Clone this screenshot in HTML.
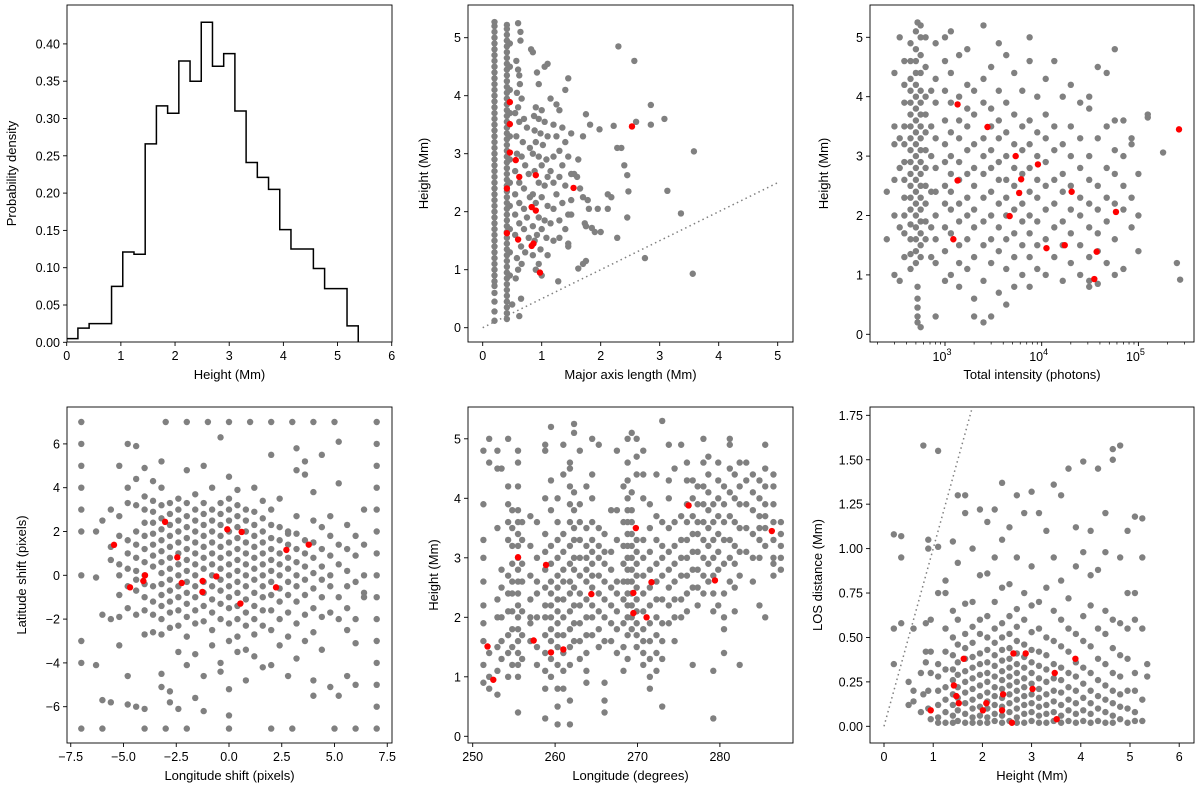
<!DOCTYPE html>
<html><head><meta charset="utf-8"><title>Height statistics panels</title>
<style>
html,body{margin:0;padding:0;background:#fff;}
svg{display:block;font-family:"Liberation Sans","DejaVu Sans",sans-serif;}
text{fill:#000;}
</style></head>
<body>
<svg id="fig" width="1200" height="795" viewBox="0 0 1200 795" xmlns="http://www.w3.org/2000/svg"></svg>
<script>
// ---------- DATA ----------
// Panel 1 histogram
const histEdgeStart = 0, histBinWidth = 0.207;
const histDensity = [0.005,0.019,0.025,0.025,0.075,0.121,0.118,0.266,0.317,0.307,0.377,0.350,0.429,0.370,0.387,0.310,0.241,0.221,0.205,0.151,0.125,0.125,0.099,0.072,0.072,0.022];
const p1XTicks = [0,1,2,3,4,5,6];
const p1YTicks = ["0.00","0.05","0.10","0.15","0.20","0.25","0.30","0.35","0.40"];

// Panel 2: major axis length vs height
const p2Cols = [
 [0.2,[0.12,0.28,0.45,0.6,0.72,0.8,0.9,1.0,1.1,1.2,1.3,1.4,1.5,1.6,1.7,1.8,1.9,2.0,2.1,2.2,2.3,2.4,2.5,2.6,2.7,2.8,2.9,3.0,3.1,3.2,3.3,3.4,3.5,3.6,3.7,3.8,3.9,4.0,4.1,4.2,4.3,4.4,4.5,4.6,4.7,4.8,4.9,5.0,5.1,5.2,5.27]],
 [0.41,[0.15,0.25,0.35,0.45,0.55,0.65,0.75,0.85,0.95,1.05,1.15,1.25,1.35,1.45,1.55,1.65,1.75,1.85,1.95,2.05,2.15,2.25,2.35,2.45,2.55,2.65,2.75,2.85,2.95,3.05,3.15,3.25,3.35,3.45,3.55,3.65,3.75,3.85,3.95,4.05,4.15,4.25,4.35,4.45,4.55,4.65,4.75,4.85,4.95,5.05,5.15,5.22]],
 [0.46,[0.9,1.3,1.7,2.1,2.5,2.9,3.3,3.7,4.1,4.5,4.9]]
];
const p2Pts = [[0.6,5.25],[0.64,5.1],[0.64,4.95],[0.57,4.6],[0.6,4.45],[0.62,4.35],[0.63,4.2],[0.58,4.05],[0.66,3.95],[0.6,3.8],[0.55,3.7],[0.7,3.6],[0.62,3.55],[0.75,3.45],[0.57,3.3],[0.68,3.2],[0.8,3.1],[0.58,3.0],[0.66,2.95],[0.72,2.8],[0.55,2.7],[0.78,2.65],[0.62,2.5],[0.7,2.4],[0.55,2.3],[0.8,2.25],[0.62,2.15],[0.7,2.05],[0.55,1.95],[0.75,1.9],[0.62,1.8],[0.7,1.7],[0.55,1.6],[0.78,1.55],[0.65,1.4],[0.72,1.3],[0.58,1.2],[0.66,1.1],[0.6,1.0],[0.56,0.85],[0.65,0.5],[0.62,0.2],[0.5,0.4],
 [0.82,4.8],[0.85,4.75],[0.92,4.4],[0.95,4.2],[1.05,4.5],[1.1,4.55],[0.9,3.8],[1.0,3.75],[0.87,3.65],[0.95,3.6],[1.05,3.55],[0.88,3.4],[0.98,3.35],[1.1,3.3],[0.9,3.2],[1.02,3.15],[0.85,3.0],[0.95,2.95],[1.08,2.9],[1.0,2.8],[0.88,2.7],[1.1,2.6],[0.95,2.5],[1.05,2.45],[0.85,2.3],[1.0,2.25],[0.9,2.15],[1.1,2.1],[0.95,1.9],[1.05,1.85],[0.85,1.75],[1.0,1.7],[0.92,1.6],[1.08,1.55],[0.88,1.5],[0.98,1.35],[0.85,1.25],[0.95,1.1],[1.0,0.9],[0.9,1.0],
 [1.15,3.95],[1.25,3.85],[1.3,3.75],[1.4,4.1],[1.45,4.3],[1.2,3.5],[1.35,3.45],[1.25,3.3],[1.4,3.2],[1.5,3.35],[1.3,3.05],[1.2,2.95],[1.45,2.95],[1.35,2.8],[1.15,2.7],[1.3,2.6],[1.5,2.65],[1.2,2.5],[1.4,2.45],[1.25,2.3],[1.5,2.2],[1.35,2.15],[1.2,2.05],[1.45,1.95],[1.3,1.85],[1.15,1.8],[1.4,1.7],[1.3,1.55],[1.2,1.5],[1.45,1.45],[1.1,1.25],[1.28,0.8],[1.45,1.4],[1.5,1.95],
 [1.6,2.6],[1.7,3.3],[1.75,3.68],[1.82,3.5],[1.98,3.42],[1.62,2.9],[1.55,2.65],[1.65,2.4],[1.7,2.25],[1.78,2.2],[1.8,2.05],[1.95,2.05],[1.73,1.8],[1.75,1.75],[1.85,1.72],[1.9,1.65],[2.0,1.65],[1.62,1.02],[1.7,1.1],[1.75,1.15],[2.12,2.3],[2.18,2.25],[2.12,2.05],[2.22,3.48],[2.3,4.85],[2.28,3.1],[2.35,3.1],[2.4,2.8],[2.45,2.63],[2.47,2.35],[2.45,1.9],[2.28,1.55],
 [2.6,3.55],[2.57,4.6],[2.85,3.84],[2.85,3.5],[3.08,3.6],[3.13,2.36],[2.75,1.2],[3.36,1.97],[3.58,3.04],[3.56,0.93]];
const p2Red = [[0.46,3.89],[0.46,3.51],[0.46,3.02],[0.56,2.89],[0.62,2.6],[0.9,2.63],[0.41,2.4],[1.54,2.41],[2.53,3.47],[0.83,2.08],[0.9,2.02],[0.41,1.63],[0.6,1.52],[0.86,1.45],[0.83,1.41],[0.97,0.95]];
const p2Line = [[0,0],[5,2.5]];
const p2Ticks = [0,1,2,3,4,5];

// Panel 3: total intensity vs height
const p3Cols = [
 [380,[1.3,1.7,2.0,2.3,2.6,2.9,3.2,3.5,3.9,4.2,4.6]],
 [440,[1.1,1.35,1.6,1.85,2.1,2.3,2.5,2.7,2.9,3.1,3.3,3.5,3.7,3.9,4.1,4.3,4.6,4.9]],
 [500,[1.2,1.4,1.6,1.8,2.0,2.2,2.4,2.6,2.8,3.0,3.2,3.4,3.6,3.8,4.0,4.2,4.4,4.6,4.8,5.1]],
 [560,[0.12,1.3,1.5,1.7,1.9,2.1,2.3,2.5,2.7,2.9,3.1,3.3,3.5,3.7,3.9,4.1,4.4,4.7,5.0,5.2]],
 [520,[0.2,0.3,0.45,0.6,0.8,5.25]],
 [630,[1.6,1.9,2.2,2.5,2.8,3.1,3.4,3.7,4.0,4.5,5.0]],
 [720,[1.3,1.8,2.4,3.0,3.5,4.1]],
 [250,[2.4,1.6]],[300,[2.0,2.6,3.2,3.5,1.0,4.4]],[340,[1.8,2.8,3.3,0.9,5.0]],
 [800,[0.3,1.2,1.6,2.0,2.4,2.8,3.3,3.9,4.3,4.9]],
 [1000,[0.9,1.4,1.8,2.2,2.5,2.9,3.2,3.6,4.1,4.6,5.0]],
 [1150,[1.0,1.7,2.1,2.4,2.7,3.0,3.4,3.9,4.4,5.1]],
 [1400,[0.8,1.2,1.5,1.9,2.2,2.6,2.9,3.3,3.6,4.0,4.7]],
 [1700,[1.1,1.6,2.0,2.3,2.7,3.1,3.5,3.8,4.2,4.8]],
 [2000,[0.6,1.3,1.8,2.1,2.5,2.8,3.2,3.7,4.1,0.3]],
 [2500,[0.9,1.5,1.9,2.3,2.7,3.0,3.3,3.9,4.3,5.2,0.2]],
 [3000,[1.2,1.6,2.0,2.4,2.8,3.1,3.5,3.8,4.5,0.3]],
 [3600,[0.7,1.4,1.8,2.2,2.6,2.9,3.3,3.6,4.1,4.9]],
 [4300,[1.1,1.6,2.0,2.3,2.6,3.0,3.4,3.9,4.7,0.5]],
 [5200,[1.3,1.7,2.1,2.5,2.8,3.2,3.7,4.4,0.8]],
 [6300,[1.0,1.5,1.9,2.2,2.7,3.1,3.5,4.1]],
 [7500,[0.8,1.3,1.7,2.0,2.4,2.8,3.2,3.6,4.6,5.0]],
 [9000,[1.1,1.5,1.9,2.3,2.6,3.0,3.4,4.0]],
 [11000,[1.0,1.6,2.1,2.5,2.9,3.3,3.7,4.3]],
 [13500,[1.3,1.8,2.2,2.6,3.1,3.5,4.6]],
 [16500,[0.9,1.5,1.9,2.4,2.7,3.2,4.0]],
 [20000,[1.2,1.7,2.1,2.5,3.0,3.5,4.2]],
 [25000,[1.0,1.5,2.0,2.3,2.8,3.3,3.9]],
 [31000,[0.9,1.3,1.8,2.2,2.6,3.0,3.8,4.0,0.8]],
 [38000,[1.4,1.7,2.1,2.5,3.3,4.5,0.85]],
 [47000,[1.2,1.9,2.3,2.8,3.5,4.4]],
 [57000,[1.6,2.2,2.7,3.1,3.6,4.8,1.0]],
 [70000,[1.1,2.1,2.5,3.0,3.6]],
 [85000,[1.8,2.3,3.2,3.3]],
 [100000,[2.0,2.7,1.4]],
 [125000,[3.7,3.65]],[180000,[3.06]],[250000,[1.2]],[270000,[0.92]]
];
const p3Red = [[1349,3.87],[2750,3.49],[5380,3.0],[9140,2.86],[6130,2.61],[1349,2.59],[5850,2.38],[20400,2.4],[263000,3.45],[58600,2.06],[4660,1.99],[1220,1.6],[11200,1.45],[17300,1.5],[37000,1.39],[35000,0.93]];
const p3Decades = [3,4,5];
const p3YTicks = [0,1,2,3,4,5];

// Panel 4: longitude shift vs latitude shift
const p4Cols = [
 [-7,[7,6,5,4,3,2,0,-3,-4,-7]],[7,[7,6,5,4,3,2,1,0,-1,-2,-3,-4,-5,-6,-7]],
 [-6,[-7,2.5,-1.8,-5.7]],[-4,[-7]],[-3,[7,-7]],[-2,[7,-7]],[-1,[7]],[1,[7]],[2,[7,-7]],[3,[7,-7]],[4,[7]],[5,[7,-7]],[6,[-7]],
 [-6.3,[2.0,-0.1,-4.1]],
 [-5.6,[1.3,-2.0,0.7,3.0,-5.8]],
 [-5.2,[0.0,0.5,1.8,2.7,-0.9,-1.9,5.0,-3.2]],
 [-4.8,[0.3,1.0,1.6,3.3,4.0,-0.5,-1.5,-4.6,-5.9,6.0]],
 [-4.4,[0.2,0.8,1.4,2.0,-0.2,-0.7,-1.8,3.2,4.4,-6.0,5.9]],
 [-4.0,[0.0,0.6,1.2,1.8,2.4,3.0,3.6,-0.4,-1.0,-1.6,-2.7,4.9,-6.1]],
 [-3.6,[0.4,0.9,1.4,1.9,2.4,2.9,3.4,-0.5,-1.2,-1.8,-2.6,4.3]],
 [-3.2,[0.1,0.6,1.1,1.6,2.1,2.6,3.2,-0.4,-0.9,-1.4,-2.0,-2.7,-4.5,-5.1,4.0,5.2]],
 [-2.8,[0.3,0.8,1.3,1.8,2.3,2.8,3.3,-0.2,-0.7,-1.2,-1.7,-2.4,-5.3,-5.8]],
 [-2.4,[0.0,0.5,1.0,1.5,2.0,2.5,3.0,3.5,-0.5,-1.0,-1.6,-2.3,-3.5,-6.1]],
 [-2.0,[0.2,0.7,1.2,1.7,2.2,2.7,3.3,-0.3,-0.8,-1.3,-1.9,-2.8,4.8,-4.1]],
 [-1.6,[0.0,0.5,1.0,1.5,2.0,2.5,3.0,3.7,-0.5,-1.0,-1.6,-2.2,-3.6,-5.6]],
 [-1.2,[0.3,0.8,1.3,1.8,2.3,2.8,3.3,-0.3,-0.8,-1.4,-2.1,-4.6,5.0,-6.2]],
 [-0.8,[0.0,0.5,1.0,1.5,2.0,2.5,3.0,-0.5,-1.1,-1.7,-2.5,-3.2,4.0]],
 [-0.4,[0.3,0.8,1.3,1.8,2.3,2.8,3.3,-0.2,-0.7,-1.3,-2.0,-4.0,-4.4,6.3]],
 [0,[0.0,0.5,1.0,1.5,2.0,2.5,3.0,3.5,-0.5,-1.0,-1.5,-2.2,-3.0,-5.2,4.5,-6.4,7,-7]],
 [0.4,[0.2,0.7,1.2,1.7,2.2,2.7,3.2,-0.3,-0.8,-1.4,-2.0,-2.8,-3.5,3.9]],
 [0.8,[0.0,0.5,1.0,1.5,2.0,2.5,3.0,-0.5,-1.1,-1.7,-2.3,-3.4,-4.8]],
 [1.2,[0.3,0.8,1.3,1.8,2.3,2.9,-0.2,-0.8,-1.4,-2.0,-2.7,4.0,-3.7]],
 [1.6,[0.0,0.5,1.0,1.5,2.0,2.6,3.4,-0.5,-1.0,-1.6,-2.3,-4.2]],
 [2.0,[0.2,0.7,1.2,1.7,2.3,3.0,-0.3,-0.9,-1.6,-2.5,-4.1,5.5]],
 [2.4,[0.0,0.5,1.0,1.6,2.2,-0.6,-1.2,-2.0,-3.2,3.5]],
 [2.8,[0.3,0.8,1.4,2.0,-0.3,-0.9,-1.7,-2.8,-4.6,1.9]],
 [3.2,[0.0,0.6,1.2,1.9,2.7,-0.5,-1.2,-2.2,-3.8,5.8,4.8]],
 [3.6,[0.4,1.0,1.6,-0.2,-0.9,-1.8,-3.0,4.6,5.2]],
 [4.0,[0.1,0.8,1.5,2.5,-0.6,-1.5,-2.6,3.8,-4.8,-5.5]],
 [4.4,[0.4,1.2,-0.2,-1.0,-1.9,-3.4,5.5,2.2]],
 [4.8,[0.0,0.9,1.8,-0.5,-1.7,-5.1,2.7]],
 [5.2,[0.5,1.4,-1.0,-2.0,-5.5,6.1,4.2]],
 [5.6,[0.2,-0.5,1.2,2.3,-1.5,-2.5,-4.6]],
 [6.0,[0.9,-0.3,1.8,-2.0,-3.1,-5.0]],
 [6.4,[0.0,1.4,-1.0,3.0,-0.8]]
];
const p4Red = [[-5.45,1.39],[-3.03,2.44],[-4.69,-0.55],[-3.98,0.0],[-4.06,-0.26],[-2.45,0.82],[-2.24,-0.35],[-1.25,-0.26],[-1.26,-0.76],[-0.6,-0.05],[-0.08,2.1],[0.6,1.98],[0.54,-1.29],[2.23,-0.55],[2.72,1.16],[3.78,1.4]];
const p4XTicks = ["-7.5","-5.0","-2.5","0.0","2.5","5.0","7.5"];
const p4YTicks = [-6,-4,-2,0,2,4,6];

// Panel 5: longitude vs height
const p5Cols = [
 [251.3,[0.9,1.2,1.6,1.9,2.2,2.6,3.0,3.3,3.9,4.8]],[252.0,[0.8,1.0,1.4,4.6,5.0]],
 [253,[0.7,1.1,1.5,2.0,2.3,3.5,4.8,4.5]],[253.5,[1.3,1.6,2.0,2.5,2.8,4.5]],
 [254.3,[1.0,1.4,1.7,2.1,2.4,2.7,3.3,3.6,3.9,4.2,5.0]],[254.8,[1.2,1.5,1.8,2.1,2.4,2.6,2.9,3.2,3.5,3.8]],
 [255.5,[0.4,1.0,1.2,1.4,1.6,1.8,2.0,2.2,2.4,2.6,2.8,3.0,3.2,3.4,3.6,3.8,4.2,4.6,4.8]],
 [256,[1.3,1.7,2.1,2.6,2.9,3.3,3.6]],[257,[1.6,1.9,2.0,2.3,2.7,3.2,3.7]],[257.8,[1.2,1.5,2.0,2.4,2.6,3.0,3.6]],
 [258.8,[0.3,0.8,1.1,1.4,1.7,2.0,2.2,2.5,2.8,3.1,3.4,4.0,4.8,4.9]],
 [259.5,[1.0,1.3,1.6,1.8,2.0,2.2,2.4,2.6,2.9,3.2,3.8,4.3,5.2]],
 [260.3,[0.2,0.5,0.8,1.2,1.5,1.7,1.9,2.1,2.3,2.5,2.7,3.0,3.3,3.6,4.0]],
 [261,[0.8,1.1,1.4,1.7,2.0,2.3,2.6,2.8,3.1,3.4,4.4,4.9]],
 [261.8,[0.2,0.6,1.2,1.5,1.8,2.1,2.4,2.6,2.9,3.2,3.6,3.9,4.2,4.5,4.6]],
 [262.3,[1.6,1.9,2.2,2.5,2.8,3.0,3.3,3.5,3.8,4.1,5.1,5.25]],
 [263,[1.3,1.6,1.9,2.2,2.4,2.7,3.0,3.3,3.6,3.9,4.8]],
 [263.8,[0.9,1.1,1.4,1.7,2.0,2.3,2.6,2.8,3.0,3.2,3.5,4.2]],
 [264.5,[1.7,2.0,2.2,2.5,2.7,2.9,3.1,3.3,3.6,4.0,4.4,5.0]],
 [265.3,[1.5,1.8,2.1,2.4,2.7,3.0,3.2,3.5,4.9]],
 [266,[0.4,0.6,0.9,1.6,2.0,2.3,2.6,2.9,3.1,3.4]],
 [266.8,[1.6,1.9,2.2,2.5,2.8,3.1,3.8]],[267.5,[1.4,1.8,2.1,2.4,2.6,3.3,3.8,4.8]],
 [268.3,[1.1,1.5,1.9,2.3,2.6,2.9,3.2,3.6,4.2]],
 [268.8,[1.3,1.7,2.0,2.2,2.4,2.6,2.8,3.0,3.2,3.4,3.6,3.8,4.0,4.3,4.6,5.0]],
 [269.3,[1.8,2.0,2.2,2.4,2.6,2.8,3.0,3.2,3.4,3.6,3.8,4.1,5.1]],
 [269.9,[1.5,1.7,1.9,2.1,2.3,2.5,2.7,2.9,3.1,3.3,4.4,4.7,5.0]],
 [270.7,[1.2,1.4,1.6,1.8,2.1,2.4,2.7,3.0,3.3,4.0,4.4,4.8]],
 [271.5,[0.8,1.0,1.3,1.6,1.9,2.2,2.5,2.8,3.1,3.5,3.9]],
 [272.3,[1.1,1.4,1.7,2.0,2.3,2.6,2.9,3.3,3.7,4.4]],
 [273,[0.5,1.3,1.6,1.9,2.3,2.7,3.0,3.2,3.6,5.3]],
 [273.8,[1.9,2.2,2.5,2.8,3.1,3.5,4.0,4.3,4.9]],[274.5,[1.6,2.0,2.3,2.6,2.9,3.2,3.6,4.5]],
 [275.3,[2.0,2.3,2.7,3.0,3.3,3.7,4.9]],[276,[2.1,2.4,2.7,3.0,3.3,3.6,3.9,4.3,4.6]],
 [276.7,[1.2,2.5,2.8,3.1,3.4,3.7,4.0,4.3]],[277.3,[2.2,2.5,2.8,3.1,3.4,3.6,3.9,4.2]],
 [278,[2.4,2.7,3.0,3.3,3.6,3.9,4.2,4.6,5.0]],[278.6,[2.6,2.9,3.2,3.5,3.8,4.1,4.4,4.7]],
 [279.2,[0.3,1.1,2.1,2.4,2.7,3.0,3.3,3.6,3.9]],[279.8,[2.2,2.8,3.1,3.4,3.7,4.0,4.3,4.6]],
 [280.5,[1.4,1.8,2.0,2.4,2.9,3.3,3.6,3.9,4.2]],[281.2,[2.6,3.0,3.3,3.7,4.1,4.5,4.9,5.0]],
 [281.8,[2.1,2.5,2.9,3.2,3.6,4.0,4.4]],[282.4,[1.2,2.7,3.1,3.5,3.9,4.2,4.6]],
 [283.2,[3.1,3.5,3.9,4.3,4.6]],[284,[2.6,3.0,3.4,3.8,4.1,4.4]],
 [284.8,[2.2,3.0,3.3,3.5,3.7,4.0,4.3]],[285.5,[2.0,3.2,3.5,3.7,3.9,4.2,4.5,4.9]],
 [286.5,[2.7,2.9,3.0,3.3,3.6,3.9,4.2,4.4]],[287.4,[2.8,3.0,3.2,3.4,3.6]]
];
const p5Red = [[251.8,1.51],[252.5,0.95],[255.5,3.01],[257.4,1.61],[258.9,2.88],[259.5,1.41],[261.0,1.46],[264.4,2.39],[269.8,3.5],[269.5,2.41],[269.5,2.07],[271.1,2.0],[271.7,2.59],[276.2,3.88],[279.4,2.62],[286.3,3.45]];
const p5XTicks = [250,260,270,280];
const p5YTicks = [0,1,2,3,4,5];

// Panel 6: height vs LOS distance
const p6Cols = [
 [0.2,[0.35,0.55,1.08]],[0.35,[0.58,1.07,0.95]],[0.5,[0.25,0.12]],[0.6,[0.55,0.2,0.14]],[0.75,[0.3,0.08]],[0.8,[1.58,0.18]],[0.85,[0.58,0.42,0.36]],[0.9,[0.1,0.2,1.0,1.05]],[0.95,[0.04,0.3,0.42,0.6]],
 [1.1,[0.02,0.05,0.12,0.2,0.28,0.35,0.75,1.01,1.55]],
 [1.25,[0.02,0.08,0.15,0.22,0.32,0.42,0.55,0.75,0.82]],
 [1.4,[0.02,0.06,0.12,0.18,0.26,0.32,0.4,0.5,0.65,1.04]],
 [1.5,[0.03,0.09,0.16,0.22,0.29,0.36,0.46,0.6,0.92,1.3]],
 [1.65,[0.02,0.07,0.13,0.19,0.25,0.31,0.38,0.44,0.52,0.69,1.2,1.3]],
 [1.8,[0.02,0.05,0.1,0.15,0.21,0.27,0.33,0.39,0.47,0.56,0.7,1.0]],
 [1.95,[0.02,0.06,0.11,0.17,0.23,0.29,0.35,0.41,0.52,0.6,0.85,1.22]],
 [2.1,[0.02,0.05,0.1,0.14,0.19,0.25,0.3,0.36,0.43,0.5,0.62,0.86,1.15]],
 [2.25,[0.03,0.07,0.12,0.17,0.22,0.28,0.34,0.4,0.47,0.55,0.7,0.95,1.22]],
 [2.4,[0.02,0.06,0.11,0.16,0.21,0.26,0.31,0.37,0.43,0.5,0.58,0.78,1.05,1.37]],
 [2.55,[0.03,0.08,0.13,0.18,0.23,0.28,0.33,0.38,0.44,0.52,0.62,0.8,1.12]],
 [2.7,[0.02,0.05,0.1,0.15,0.2,0.25,0.3,0.35,0.41,0.48,0.56,0.66,0.95,1.3]],
 [2.85,[0.02,0.07,0.12,0.17,0.22,0.27,0.33,0.39,0.46,0.6,0.75,1.2]],
 [3.0,[0.03,0.08,0.13,0.18,0.24,0.3,0.36,0.43,0.53,0.68,0.9,1.32]],
 [3.15,[0.02,0.06,0.11,0.16,0.21,0.27,0.34,0.42,0.55,0.7,1.2]],
 [3.3,[0.02,0.07,0.12,0.18,0.25,0.32,0.4,0.5,0.78,1.1]],
 [3.45,[0.03,0.08,0.14,0.2,0.27,0.35,0.48,0.65,0.95,1.36]],
 [3.6,[0.02,0.06,0.12,0.19,0.26,0.33,0.45,0.6,0.82,1.3]],
 [3.75,[0.03,0.09,0.15,0.22,0.3,0.42,0.55,0.72,1.45]],
 [3.9,[0.02,0.07,0.13,0.2,0.28,0.36,0.52,0.9,1.12]],
 [4.05,[0.03,0.09,0.16,0.24,0.33,0.48,0.62,0.98,1.49]],
 [4.2,[0.02,0.07,0.13,0.2,0.3,0.45,0.68,0.85,1.1]],
 [4.35,[0.03,0.1,0.17,0.26,0.38,0.55,0.88,1.45]],
 [4.5,[0.02,0.08,0.15,0.23,0.35,0.52,0.65,0.98,1.2]],
 [4.65,[0.02,0.06,0.13,0.2,0.3,0.44,0.6,1.5,1.56]],
 [4.8,[0.04,0.11,0.18,0.28,0.4,0.58,0.95,1.58]],
 [4.95,[0.02,0.1,0.2,0.38,0.55,0.75,1.1]],
 [5.1,[0.03,0.08,0.2,0.3,0.6,0.75,1.18]],
 [5.25,[0.03,0.15,0.55,0.95,1.17]],[5.35,[0.28,0.35]]
];
const p6Red = [[0.95,0.09],[1.62,0.38],[1.42,0.23],[1.47,0.17],[1.52,0.13],[2.01,0.09],[2.08,0.13],[2.4,0.09],[2.42,0.18],[2.6,0.02],[2.63,0.41],[2.88,0.41],[3.02,0.21],[3.47,0.3],[3.51,0.04],[3.89,0.38]];
const p6Line = [[0,0],[1.8,1.8]];
const p6XTicks = [0,1,2,3,4,5,6];
const p6YTicks = ["0.00","0.25","0.50","0.75","1.00","1.25","1.50","1.75"];

// ---------- RENDER ----------
const NS = "http://www.w3.org/2000/svg";
const svg = document.getElementById("fig");
function el(tag, attrs, parent){
  const e = document.createElementNS(NS, tag);
  for (const k in attrs) e.setAttribute(k, attrs[k]);
  (parent||svg).appendChild(e);
  return e;
}
function lin(d0, p0, perUnit){ return v => p0 + (v - d0) * perUnit; }

function panel(name, box){
  const g = el("g", {});
  
  
  const clipId = name + "-clip";
  const cp = el("clipPath", {id: clipId}, g);
  el("rect", {x: box.l, y: box.t, width: box.r-box.l, height: box.b-box.t}, cp);
  const plot = el("g", {"clip-path": "url(#"+clipId+")"}, g);
  
  
  return {g, plot};
}
function frame(g, box){
  const r = el("rect", {x: box.l, y: box.t, width: box.r-box.l, height: box.b-box.t, fill: "none", stroke: "#000", "stroke-width": 0.9}, g);
  
  
}
function xTicks(g, box, vals, labels, sx){
  vals.forEach((v,i)=>{
    const x = sx(v);
    el("line", {x1:x, x2:x, y1:box.b, y2:box.b+4, stroke:"#000", "stroke-width":0.9}, g);
    const t = el("text", {x:x, y:box.b+18, "text-anchor":"middle", "font-size":"12.5"}, g);
    t.textContent = String(labels[i]).replace("-", "\u2212");
    
    
  });
}
function yTicks(g, box, vals, labels, sy){
  vals.forEach((v,i)=>{
    const y = sy(v);
    el("line", {x1:box.l-4, x2:box.l, y1:y, y2:y, stroke:"#000", "stroke-width":0.9}, g);
    const t = el("text", {x:box.l-7, y:y+4.5, "text-anchor":"end", "font-size":"12.5"}, g);
    t.textContent = String(labels[i]).replace("-", "\u2212");
    
    
  });
}
function axisLabels(g, box, xl, yl, ylx){
  const cx = (box.l+box.r)/2;
  const t = el("text", {x:cx, y:box.b+37, "text-anchor":"middle", "font-size":"13"}, g);
  t.textContent = xl;
  
  
  const cy = (box.t+box.b)/2;
  const u = el("text", {x:ylx, y:cy, "text-anchor":"middle", "font-size":"13", transform:"rotate(-90 "+ylx+" "+cy+")"}, g);
  u.textContent = yl;
  
  
}
function dot(parent, x, y, color, nm){
  const c = el("circle", {cx:x, cy:y, r:3.2, fill:color}, parent);
  
  
}
function drawCols(parent, cols, sx, sy){
  cols.forEach(col => col[1].forEach(v => dot(parent, sx(col[0]), sy(v), "#808080", "grey-point")));
}
function drawPts(parent, pts, sx, sy, color, nm){
  pts.forEach(p => dot(parent, sx(p[0]), sy(p[1]), color, nm));
}
function dotted(parent, pts, sx, sy){
  const l = el("line", {x1:sx(pts[0][0]), y1:sy(pts[0][1]), x2:sx(pts[1][0]), y2:sy(pts[1][1]), stroke:"#808080", "stroke-width":1.5, "stroke-dasharray":"1.5 3.3"}, parent);
  
  
}

// Panel 1
(function(){
  const box = {l:67, r:392, t:5, b:342};
  const {g, plot} = panel("histogram-panel", box);
  const sx = lin(0, 66.7, 54.17), sy = lin(0, 342.3, -746);
  let d = "M" + sx(histEdgeStart) + "," + sy(0);
  histDensity.forEach((v,i)=>{
    const x0 = sx(histEdgeStart + i*histBinWidth), x1 = sx(histEdgeStart + (i+1)*histBinWidth);
    d += " L" + x0 + "," + sy(v) + " L" + x1 + "," + sy(v);
  });
  d += " L" + sx(histEdgeStart + histDensity.length*histBinWidth) + "," + sy(0);
  const p = el("path", {d:d, fill:"none", stroke:"#000", "stroke-width":1.5}, plot);
  
  
  frame(g, box);
  xTicks(g, box, p1XTicks, p1XTicks, sx);
  yTicks(g, box, p1YTicks.map(Number), p1YTicks, sy);
  axisLabels(g, box, "Height (Mm)", "Probability density", 16);
})();

// Panel 2
(function(){
  const box = {l:468, r:793, t:5, b:342};
  const {g, plot} = panel("major-axis-panel", box);
  const sx = lin(0, 482.7, 59), sy = lin(0, 327.7, -58);
  drawCols(plot, p2Cols, sx, sy);
  drawPts(plot, p2Pts, sx, sy, "#808080", "grey-point");
  dotted(plot, p2Line, sx, sy);
  drawPts(plot, p2Red, sx, sy, "#ff0000", "red-point");
  frame(g, box);
  xTicks(g, box, p2Ticks, p2Ticks, sx);
  yTicks(g, box, p2Ticks, p2Ticks, sy);
  axisLabels(g, box, "Major axis length (Mm)", "Height (Mm)", 428);
})();

// Panel 3
(function(){
  const box = {l:870, r:1194, t:5, b:342};
  const {g, plot} = panel("intensity-panel", box);
  const sl = lin(3, 945, 96.7);
  const sx = v => sl(Math.log10(v)), sy = lin(0, 334.3, -59.4);
  drawCols(plot, p3Cols, sx, sy);
  drawPts(plot, p3Red, sx, sy, "#ff0000", "red-point");
  frame(g, box);
  for (let e = 2; e <= 5; e++) for (let m = 2; m <= 9; m++){
    const x = sx(m*Math.pow(10,e));
    if (x > box.l && x < box.r) el("line", {x1:x, x2:x, y1:box.b, y2:box.b+2.5, stroke:"#000", "stroke-width":0.7}, g);
  }
  p3Decades.forEach(dd=>{
    const x = sl(dd);
    el("line", {x1:x, x2:x, y1:box.b, y2:box.b+4, stroke:"#000", "stroke-width":0.9}, g);
    const t = el("text", {x:x-3, y:box.b+19, "text-anchor":"middle", "font-size":"12.5"}, g);
    
    
    const a = el("tspan", {}, t); a.textContent = "10";
    const b = el("tspan", {dy:"-6", "font-size":"9"}, t); b.textContent = String(dd);
  });
  yTicks(g, box, p3YTicks, p3YTicks, sy);
  axisLabels(g, box, "Total intensity (photons)", "Height (Mm)", 828);
})();

// Panel 4
(function(){
  const box = {l:67, r:392, t:407, b:743};
  const {g, plot} = panel("shift-panel", box);
  const sx = lin(0, 229, 21.1), sy = lin(0, 575.3, -21.9);
  drawCols(plot, p4Cols, sx, sy);
  drawPts(plot, p4Red, sx, sy, "#ff0000", "red-point");
  frame(g, box);
  xTicks(g, box, p4XTicks.map(Number), p4XTicks, sx);
  yTicks(g, box, p4YTicks, p4YTicks, sy);
  axisLabels(g, box, "Longitude shift (pixels)", "Latitude shift (pixels)", 26);
})();

// Panel 5
(function(){
  const box = {l:468, r:793, t:407, b:743};
  const {g, plot} = panel("longitude-panel", box);
  const sx = lin(250, 472.7, 8.24), sy = lin(0, 736.3, -59.5);
  drawCols(plot, p5Cols, sx, sy);
  drawPts(plot, p5Red, sx, sy, "#ff0000", "red-point");
  frame(g, box);
  xTicks(g, box, p5XTicks, p5XTicks, sx);
  yTicks(g, box, p5YTicks, p5YTicks, sy);
  axisLabels(g, box, "Longitude (degrees)", "Height (Mm)", 438);
})();

// Panel 6
(function(){
  const box = {l:870, r:1194, t:407, b:743};
  const {g, plot} = panel("los-panel", box);
  const sx = lin(0, 884, 49.2), sy = lin(0, 726.3, -177.7);
  drawCols(plot, p6Cols, sx, sy);
  dotted(plot, p6Line, sx, sy);
  drawPts(plot, p6Red, sx, sy, "#ff0000", "red-point");
  frame(g, box);
  xTicks(g, box, p6XTicks, p6XTicks, sx);
  yTicks(g, box, p6YTicks.map(Number), p6YTicks, sy);
  axisLabels(g, box, "Height (Mm)", "LOS distance (Mm)", 822);
})();
</script>
</body></html>
